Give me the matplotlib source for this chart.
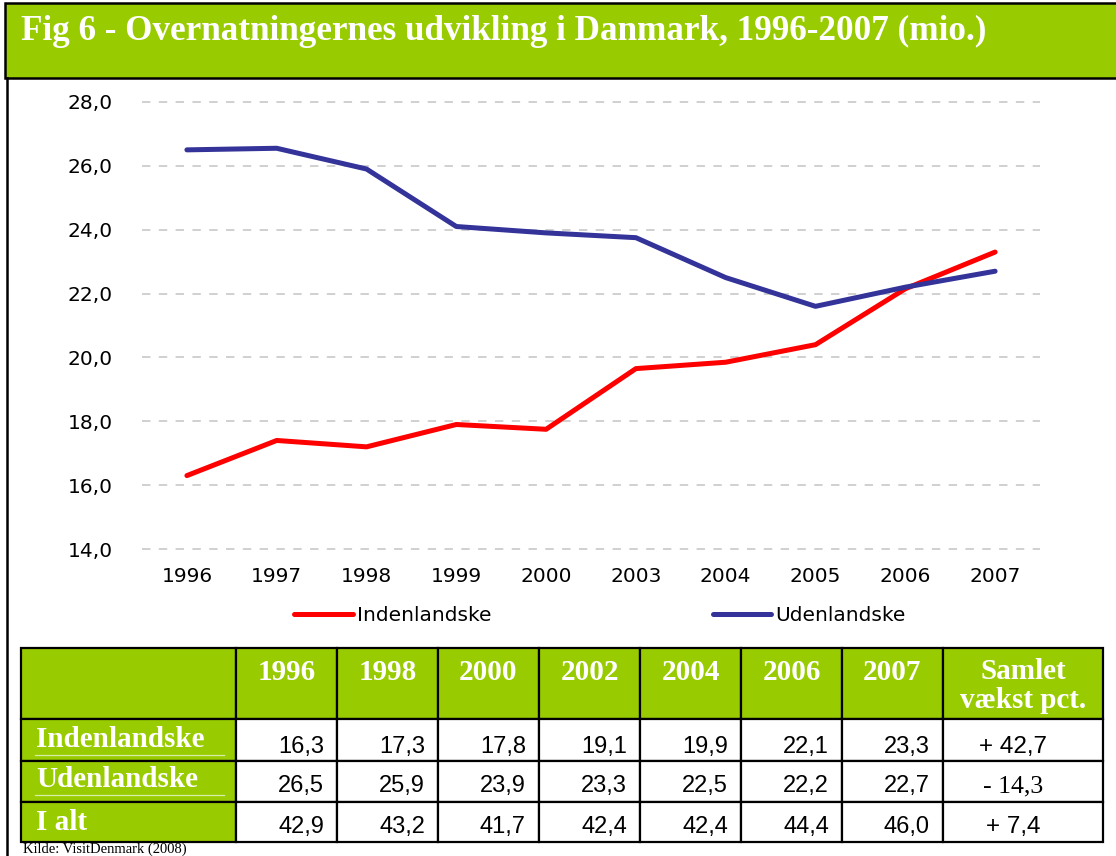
import numpy as np
import matplotlib
matplotlib.use("Agg")
import matplotlib.pyplot as plt
from matplotlib.patches import Rectangle

# chart data (mio. overnatninger)
years = ["1996", "1997", "1998", "1999", "2000", "2003", "2004", "2005", "2006", "2007"]
indenlandske = [16.3, 17.4, 17.2, 17.9, 17.75, 19.65, 19.85, 20.4, 22.15, 23.3]
udenlandske = [26.5, 26.55, 25.9, 24.1, 23.9, 23.75, 22.5, 21.6, 22.2, 22.7]
y_ticks = [14, 16, 18, 20, 22, 24, 26, 28]

# table data
tab_years = ["1996", "1998", "2000", "2002", "2004", "2006", "2007"]
tab_inden = [16.3, 17.3, 17.8, 19.1, 19.9, 22.1, 23.3]
tab_uden = [26.5, 25.9, 23.9, 23.3, 22.5, 22.2, 22.7]
tab_total = [42.9, 43.2, 41.7, 42.4, 42.4, 44.4, 46.0]
tab_growth = [42.7, -14.3, 7.4]
row_labels = ["Indenlandske", "Udenlandske", "I alt"]

GREEN = "#99CC00"
RED = "#FF0000"
BLUE = "#333399"
SERIF = "Liberation Serif"
SANS = "Liberation Sans"


def dk(v):
    return f"{v:.1f}".replace(".", ",")


W, H = 1116, 856
fig = plt.figure(figsize=(W / 100, H / 100), dpi=100)

# background layer in pixel coordinates: frame, title band, table, source
bg = fig.add_axes([0, 0, 1, 1])
bg.set_xlim(0, W)
bg.set_ylim(H, 0)
bg.axis("off")

bg.add_patch(Rectangle((5, 3), W, 75, facecolor=GREEN, edgecolor="black", lw=1.8))
bg.plot([7, 7], [78, H], color="black", lw=1.8)
bg.text(21, 40, "Fig 6 - Overnatningernes udvikling i Danmark, 1996-2007 (mio.)",
        family=SERIF, weight="bold", fontsize=25.3, color="white", va="baseline")

# line chart
ax = fig.add_axes([142 / W, 1 - 550 / H, 898 / W, 449 / H])
x = np.arange(len(years))
ax.plot(x, indenlandske, color=RED, lw=3.6, solid_capstyle="round",
        solid_joinstyle="round", label="Indenlandske", zorder=3)
ax.plot(x, udenlandske, color=BLUE, lw=3.6, solid_capstyle="round",
        solid_joinstyle="round", label="Udenlandske", zorder=3)
ax.set_xlim(-0.5, len(years) - 0.5)
ax.set_ylim(13.97, 28.03)
ax.set_xticks(x)
ax.set_xticklabels(years)
ax.set_yticks(y_ticks)
ax.set_yticklabels([dk(t) for t in y_ticks])
ax.grid(axis="y", color="#C4C4C4", lw=1.1, linestyle=(0, (5.5, 5.5)))
ax.set_axisbelow(True)
ax.tick_params(length=0, labelsize=14.5)
ax.tick_params(axis="y", pad=21)
ax.tick_params(axis="x", pad=12)
for s in ax.spines.values():
    s.set_visible(False)
ax.legend(loc="center", bbox_to_anchor=(0.51, -0.145), ncol=2, frameon=False,
          fontsize=14.5, handlelength=2.9, handletextpad=0.2, columnspacing=11)

# table
col_widths = [215] + [101] * len(tab_years) + [160]
col_edges = np.concatenate([[21], 21 + np.cumsum(col_widths)])
row_edges = [648, 719, 761, 802, 842]
n_cols = len(col_widths)

for r in range(len(row_edges) - 1):
    for c in range(n_cols):
        green = r == 0 or c == 0
        bg.add_patch(Rectangle((col_edges[c], row_edges[r]),
                               col_edges[c + 1] - col_edges[c],
                               row_edges[r + 1] - row_edges[r],
                               facecolor=GREEN if green else "white",
                               edgecolor="black", lw=1.6))

# header
for i, yr in enumerate(tab_years):
    cx = (col_edges[i + 1] + col_edges[i + 2]) / 2
    bg.text(cx, 680, yr, family=SERIF, weight="bold", fontsize=21,
            color="white", ha="center", va="baseline")
cx_last = (col_edges[-2] + col_edges[-1]) / 2
bg.text(cx_last, 679, "Samlet", family=SERIF, weight="bold", fontsize=21,
        color="white", ha="center", va="baseline")
bg.text(cx_last, 708, "vækst pct.", family=SERIF, weight="bold", fontsize=21,
        color="white", ha="center", va="baseline")

# body rows
rows = [tab_inden, tab_uden, tab_total]
label_base = [747, 787, 830]
num_base = [753, 792, 833]
for r, (lab, vals) in enumerate(zip(row_labels, rows)):
    bg.text(36, label_base[r], lab, family=SERIF, weight="bold", fontsize=21,
            color="white", va="baseline")
    if r < 2:
        bg.plot([35, 224], [label_base[r] + 8, label_base[r] + 8],
                color="#D8EDA8", lw=0.9)
    for i, v in enumerate(vals):
        bg.text(col_edges[i + 2] - 13, num_base[r], dk(v), family=SANS,
                fontsize=17, color="black", ha="right", va="baseline")
    g = tab_growth[r]
    txt = ("+ " if g > 0 else "- ") + dk(abs(g))
    bg.text(cx_last - 10, num_base[r], txt, family=SERIF if g < 0 else SANS,
            fontsize=18.5 if g < 0 else 17.5, color="black",
            ha="center", va="baseline")

bg.text(23, 853, "Kilde: VisitDenmark (2008)", family=SERIF, fontsize=10.5,
        color="black", va="baseline")

fig.savefig("out.png", dpi=100)
